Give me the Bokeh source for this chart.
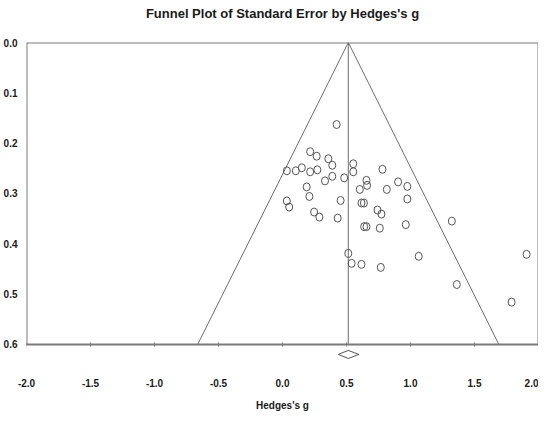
from bokeh.plotting import figure
from bokeh.models import Range1d, FixedTicker, NumeralTickFormatter, Title
from bokeh.embed import file_html
from bokeh.resources import INLINE

# Study effects (Hedges's g) and their standard errors
hedges_g = [0.423, 0.216, 0.267, 0.358, 0.389, 0.553, 0.034, 0.104, 0.151, 0.216,
            0.272, 0.389, 0.332, 0.482, 0.553, 0.781, 0.656, 0.661, 0.604, 0.903,
            0.975, 0.815, 0.189, 0.210, 0.454, 0.975, 0.617, 0.636, 0.034, 0.052,
            0.247, 0.288, 0.431, 0.742, 0.773, 0.638, 0.656, 0.760, 0.963, 1.323,
            0.514, 0.540, 0.617, 0.768, 1.064, 1.362, 1.790, 1.907]
std_err = [0.163, 0.217, 0.226, 0.231, 0.244, 0.241, 0.255, 0.255, 0.249, 0.257,
           0.253, 0.266, 0.275, 0.269, 0.257, 0.252, 0.274, 0.284, 0.292, 0.277,
           0.286, 0.292, 0.287, 0.306, 0.314, 0.311, 0.319, 0.319, 0.315, 0.327,
           0.337, 0.347, 0.349, 0.333, 0.341, 0.366, 0.366, 0.369, 0.362, 0.355,
           0.419, 0.439, 0.441, 0.447, 0.425, 0.481, 0.516, 0.421]

# Summary effect and its confidence interval
summary_g = 0.514
summary_lo = 0.436
summary_hi = 0.597
summary_row = 0.62

se_max = 0.6
x_ticks = [-2.0, -1.5, -1.0, -0.5, 0.0, 0.5, 1.0, 1.5, 2.0]
y_ticks = [0.0, 0.1, 0.2, 0.3, 0.4, 0.5, 0.6]

FONT = "Liberation Sans"
GRAY = "#7a7a7a"

p = figure(width=538, height=413,
           x_range=Range1d(-2.0, 2.0), y_range=Range1d(0.64, 0.0),
           output_backend="svg", toolbar_location=None,
           min_border_left=0, min_border_right=0, min_border_top=0, min_border_bottom=0)
p.outline_line_color = None
p.grid.visible = False

# spacer between title and plot box, the title, and a small top spacer
p.add_layout(Title(text=" ", text_font_size="18px", standoff=0), "above")
p.add_layout(Title(text="Funnel Plot of Standard Error by Hedges's g", align="center",
                   text_font=FONT, text_font_size="13px", text_font_style="bold",
                   text_color="#1a1a1a", standoff=0), "above")
p.add_layout(Title(text=" ", text_font_size="1px", standoff=0), "above")

# axes
xa = p.xaxis[0]
xa.ticker = FixedTicker(ticks=x_ticks)
xa.formatter = NumeralTickFormatter(format="0.0")
xa.axis_line_color = None
xa.major_tick_line_color = None
xa.minor_tick_line_color = None
xa.major_label_standoff = 8
xa.major_label_text_font = FONT
xa.major_label_text_font_style = "bold"
xa.major_label_text_font_size = "10px"
xa.major_label_text_color = "#1a1a1a"
xa.axis_label = "Hedges's g"
xa.axis_label_text_font = FONT
xa.axis_label_text_font_style = "bold"
xa.axis_label_text_font_size = "10px"
xa.axis_label_text_color = "#1a1a1a"
xa.axis_label_standoff = 10

ya = p.yaxis[0]
ya.ticker = FixedTicker(ticks=y_ticks)
ya.formatter = NumeralTickFormatter(format="0.0")
ya.axis_line_color = None
ya.major_tick_line_color = None
ya.minor_tick_line_color = None
ya.major_label_standoff = 3
ya.major_label_text_font = FONT
ya.major_label_text_font_style = "bold"
ya.major_label_text_font_size = "10px"
ya.major_label_text_color = "#1a1a1a"

# plot box
p.quad(left=[x_ticks[0]], right=[x_ticks[-1]], top=[y_ticks[0]], bottom=[se_max],
       fill_color=None, line_color=GRAY, line_width=2)

# tick marks on the bottom edge
p.segment(x0=x_ticks, y0=[se_max - 0.004] * len(x_ticks),
          x1=x_ticks, y1=[se_max + 0.004] * len(x_ticks),
          line_color=GRAY, line_width=1)

# funnel
p.line(x=[summary_g - 1.96 * se_max, summary_g, summary_g + 1.96 * se_max],
       y=[se_max, 0.0, se_max], line_color="#6e6e6e", line_width=1)
p.segment(x0=[summary_g], y0=[0.0], x1=[summary_g], y1=[se_max],
          line_color="#6e6e6e", line_width=1)

# studies
p.ellipse(x=hedges_g, y=std_err, width=7, height=8,
          width_units="screen", height_units="screen",
          fill_color=None, line_color="#555555", line_width=1)

# summary diamond
p.patch(x=[summary_lo, summary_g, summary_hi, summary_g],
        y=[summary_row, summary_row - 0.008, summary_row, summary_row + 0.008],
        fill_color="white", line_color="#555555", line_width=1)

open("out.html", "w").write(file_html(p, INLINE))
